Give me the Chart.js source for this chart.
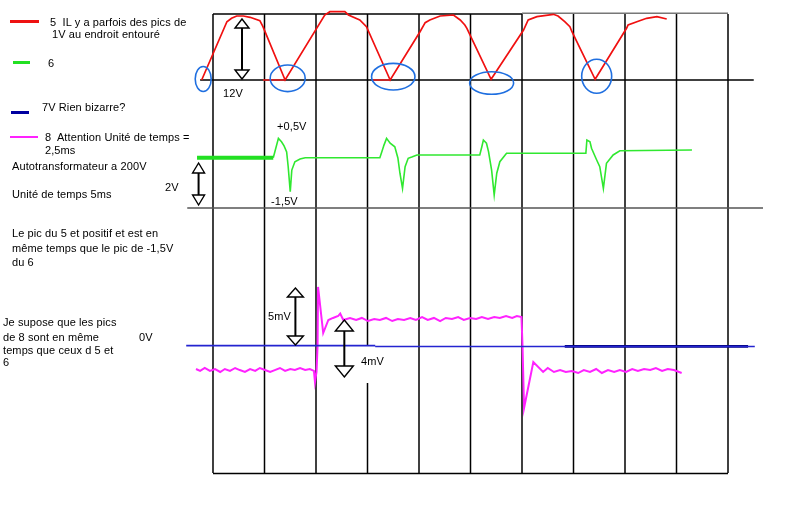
<!DOCTYPE html>
<html>
<head>
<meta charset="utf-8">
<script src="https://cdn.jsdelivr.net/npm/chart.js@4"></script>
<style>
body { margin: 0; background: #fff; }
#wrap { position: relative; width: 800px; height: 515px; overflow: hidden; }
canvas { position: absolute; left: 0; top: 0; }
.t { position: absolute; font: 11px "Liberation Sans", Arial, sans-serif; line-height: 11px; color: #000; white-space: pre; letter-spacing: 0.1px; }
.sw { position: absolute; }
</style>
</head>
<body>
<div id="wrap"><canvas id="scope" width="800" height="515"></canvas></div>
<script>
// time in grid divisions (1 div = 5 ms), values in volts / millivolts

// trace 5 (red), volts
const redT = [-0.22, 0.27, 0.36, 0.46, 0.59, 0.72, 0.91, 0.97, 1.40, 2.17, 2.27, 2.56, 2.63, 2.85, 2.98, 3.44,
  4.02, 4.12, 4.21, 4.41, 4.67, 4.80, 4.89, 4.93, 5.40, 6.03, 6.12, 6.29, 6.61, 6.70, 6.83, 6.93, 6.97, 7.42,
  8.03, 8.06, 8.23, 8.42, 8.62, 8.81];
const redV = [0, 11.66, 12.34, 12.8, 12.8, 12.54, 11.86, 10.66, 0, 13.0, 13.66, 13.66, 13.0, 12.0, 10.66, 0,
  9.66, 11.46, 12.0, 12.8, 13.0, 12.0, 11.0, 10.34, 0.14, 10.0, 12.0, 12.66, 13.14, 12.8, 11.66, 10.66, 9.66, 0.14,
  10.34, 11.0, 11.66, 12.34, 12.66, 12.2];
// short red bits lying on the zero line
const redFlatT = [0.97, 1.40, null, 3.09, 3.44];
const redFlatV = [0, 0, null, 0, 0];

// trace 6 (green), volts
const greenThickT = [-0.31, 1.17];
const greenThickV = [0, 0];
const greenT = [1.17, 1.20, 1.27, 1.33, 1.38, 1.43, 1.46, 1.50, 1.53, 1.59, 1.69, 1.79, 3.24,
  3.28, 3.32, 3.37, 3.44, 3.53, 3.59, 3.63, 3.68, 3.73, 3.79, 3.86, 3.96, 5.18,
  5.22, 5.25, 5.31, 5.35, 5.41, 5.46, 5.51, 5.57, 5.70, 7.24,
  7.26, 7.32, 7.35, 7.45, 7.51, 7.58, 7.64, 7.77, 7.90, 9.30];
const greenV = [0, 0.27, 0.92, 0.76, 0.56, 0.27, -0.43, -1.62, -0.59, -0.19, -0.06, 0, 0,
  0.29, 0.60, 0.92, 0.69, 0.52, -0.01, -0.74, -1.46, -0.43, -0.03, 0.03, 0.13, 0.13,
  0.52, 0.84, 0.69, 0.29, -0.59, -1.78, -0.74, -0.19, 0.21, 0.21,
  0.84, 0.76, 0.45, -0.11, -0.43, -1.46, -0.27, 0.13, 0.33, 0.37];

// trace 7 (blue), millivolts
const blueT = [-0.52, 3.15, null, 3.15, 10.52];
const blueV = [0.03, 0.03, null, -0.04, -0.04];
const navyT = [6.83, 10.39];
const navyV = [-0.04, -0.04];

// trace 8 (magenta), millivolts
const magT = [-0.33, -0.25, -0.16, -0.06, 0.04, 0.14, 0.23, 0.33, 0.43, 0.52, 0.62, 0.72, 0.82, 0.91, 1.01,
  1.11, 1.20, 1.30, 1.40, 1.50, 1.59, 1.69, 1.79, 1.88, 1.96, 1.98, 2.01, 2.03, 2.04, 2.14, 2.24, 2.33,
  2.43, 2.47, 2.53, 2.66, 2.78, 2.89, 3.01, 3.13, 3.24, 3.36, 3.48, 3.59, 3.71, 3.83, 3.94, 4.06, 4.17,
  4.29, 4.41, 4.52, 4.64, 4.76, 4.87, 4.99, 5.11, 5.22, 5.34, 5.46, 5.57, 5.69, 5.81, 5.90, 5.99, 6.01,
  6.04, 6.22, 6.41, 6.50, 6.62, 6.74, 6.85, 6.97, 7.09, 7.20, 7.32, 7.44, 7.55, 7.67, 7.79, 7.90, 8.02,
  8.14, 8.25, 8.37, 8.49, 8.60, 8.72, 8.83, 8.95, 9.10];
const magV = [-2.02, -2.19, -1.93, -2.19, -2.02, -2.28, -2.02, -2.19, -1.93, -2.11, -2.28, -2.02, -2.19, -1.93, -2.11,
  -2.28, -2.11, -1.93, -2.19, -2.02, -2.11, -1.93, -2.11, -2.02, -2.19, -3.16, -2.28, 0, 5.18, 1.14, 2.28, 2.46,
  2.63, 2.85, 2.28, 2.46, 2.28, 2.46, 2.19, 2.37, 2.28, 2.46, 2.19, 2.37, 2.28, 2.46, 2.28, 2.54, 2.28,
  2.46, 2.19, 2.46, 2.37, 2.54, 2.28, 2.46, 2.37, 2.54, 2.37, 2.54, 2.46, 2.63, 2.46, 2.63, 2.54, 0,
  -5.44, -1.40, -2.28, -1.93, -2.28, -2.11, -2.28, -2.19, -2.37, -2.11, -2.28, -2.02, -2.37, -2.11, -2.28, -2.11, -2.28,
  -2.02, -2.19, -2.02, -2.11, -1.93, -2.19, -2.02, -2.11, -2.37];

const gridDivs = [0, 1, 2, 3, 4, 5, 6, 7, 8, 9, 10];

// texts: [text, left px, baseline px]
const labels = [
  ['5  IL y a parfois des pics de', 50, 26],
  ['1V au endroit entouré', 52, 38],
  ['6', 48, 67],
  ['7V Rien bizarre?', 42, 111],
  ['8  Attention Unité de temps =', 45, 141],
  ['2,5ms', 45, 154],
  ['Autotransformateur a 200V', 12, 170],
  ['Unité de temps 5ms', 12, 198],
  ['2V', 165, 191],
  ['Le pic du 5 et positif et est en', 12, 237],
  ['même temps que le pic de -1,5V', 12, 252],
  ['du 6', 12, 266],
  ['Je supose que les pics', 3, 326],
  ['de 8 sont en même', 3, 341],
  ['temps que ceux d 5 et', 3, 354],
  ['6', 3, 366],
  ['0V', 139, 341],
  ['12V', 223, 97],
  ['+0,5V', 277, 130],
  ['-1,5V', 271, 205],
  ['5mV', 268, 320],
  ['4mV', 361, 365]
];
// legend swatches: color, left, top, width, height
const swatches = [
  ['#ee1111', 10, 19.5, 29, 3],
  ['#22e022', 13, 61, 17, 2.5],
  ['#0000a0', 11, 111, 18, 3],
  ['#ff22ff', 10, 136, 28, 1.5]
];

const wrap = document.getElementById('wrap');
labels.forEach(([txt, x, base]) => {
  const d = document.createElement('div');
  d.className = 't';
  d.textContent = txt;
  d.style.left = x + 'px';
  d.style.top = (base - 9.3) + 'px';
  wrap.appendChild(d);
});
swatches.forEach(([c, x, y, w, h]) => {
  const d = document.createElement('div');
  d.className = 'sw';
  Object.assign(d.style, { left: x + 'px', top: y + 'px', width: w + 'px', height: h + 'px', background: c });
  wrap.appendChild(d);
});

const pts = (xs, ys) => xs.map((x, i) => ({ x, y: ys[i] }));

// blue ellipses round the red minima: x in div, y / radii in px
const rings = [[-0.19, 79, 8, 12.5], [1.45, 78.3, 17.5, 13.3], [3.50, 76.7, 21.7, 13.3], [5.41, 83, 22, 11.3], [7.45, 76.3, 15, 17]];
// double arrows: x in div, top apex, bottom apex (px), head half width, head height
const arrows = [[0.563, 19, 79, 7, 9], [-0.28, 163, 205, 6, 10], [1.60, 288, 345, 8, 9], [2.55, 320, 377, 9, 11]];

const scopeDeco = {
  id: 'scopeDeco',
  beforeDatasetsDraw(chart) {
    const ctx = chart.ctx, X = chart.scales.x, F = chart.scales.yF;
    const px = v => X.getPixelForValue(v), py = v => F.getPixelForValue(v);
    const seg = (x1, y1, x2, y2, col, w) => {
      ctx.strokeStyle = col; ctx.lineWidth = w;
      ctx.beginPath(); ctx.moveTo(x1, y1); ctx.lineTo(x2, y2); ctx.stroke();
    };
    ctx.save();
    gridDivs.forEach(d => {
      if (d === 3) {
        seg(px(d), py(14), px(d), py(346), '#000', 1.5);
        seg(px(d), py(383), px(d), py(473), '#000', 1.5);
      } else {
        seg(px(d), py(14), px(d), py(473), '#000', 1.5);
      }
    });
    seg(px(0), py(14), px(6), py(14), '#000', 1.5);
    seg(px(6), py(13.3), px(10), py(13.3), '#777', 1.5);
    seg(px(0), py(473.5), px(10), py(473.5), '#000', 1.5);
    seg(px(-0.25), py(80), px(10.5), py(80), '#000', 1.5);
    seg(px(-0.5), py(208), px(10.68), py(208), '#555', 1.5);
    ctx.restore();
  },
  afterDatasetsDraw(chart) {
    const ctx = chart.ctx, X = chart.scales.x, F = chart.scales.yF;
    const px = v => X.getPixelForValue(v), py = v => F.getPixelForValue(v);
    ctx.save();
    ctx.strokeStyle = '#1f6fe0'; ctx.lineWidth = 1.6;
    rings.forEach(([x, y, rx, ry]) => {
      ctx.beginPath(); ctx.ellipse(px(x), py(y), rx, ry, 0, 0, Math.PI * 2); ctx.stroke();
    });
    arrows.forEach(([x, top, bot, hw, hh]) => {
      const cx = px(x), t = py(top), b = py(bot);
      ctx.strokeStyle = '#000'; ctx.lineWidth = 2;
      ctx.beginPath(); ctx.moveTo(cx, t + hh); ctx.lineTo(cx, b - hh); ctx.stroke();
      ctx.lineWidth = 1.4; ctx.fillStyle = '#fff';
      ctx.beginPath(); ctx.moveTo(cx, t); ctx.lineTo(cx + hw, t + hh); ctx.lineTo(cx - hw, t + hh); ctx.closePath();
      ctx.fill(); ctx.stroke();
      ctx.beginPath(); ctx.moveTo(cx, b); ctx.lineTo(cx + hw, b - hh); ctx.lineTo(cx - hw, b - hh); ctx.closePath();
      ctx.fill(); ctx.stroke();
    });
    ctx.restore();
  }
};

const line = (data, color, width, axis) => ({
  data, borderColor: color, backgroundColor: color, borderWidth: width,
  pointRadius: 0, tension: 0, spanGaps: false, yAxisID: axis
});

new Chart(document.getElementById('scope'), {
  type: 'line',
  data: {
    datasets: [
      line(pts(blueT, blueV), '#2424d0', 1.6, 'yM'),
      line(pts(navyT, navyV), '#00007a', 2.8, 'yM'),
      line(pts(redT, redV), '#f01010', 1.7, 'yR'),
      line(pts(redFlatT, redFlatV), '#f02020', 1.6, 'yR'),
      line(pts(greenThickT, greenThickV), '#22e022', 4, 'yG'),
      line(pts(greenT, greenV), '#30e830', 1.6, 'yG'),
      line(pts(magT, magV), '#ff22ff', 2, 'yM')
    ]
  },
  options: {
    responsive: false,
    animation: false,
    events: [],
    layout: { padding: 0 },
    plugins: { legend: { display: false }, tooltip: { enabled: false } },
    scales: {
      x: { type: 'linear', display: false, min: -4.1359, max: 11.398 },
      yR: { type: 'linear', display: false, min: -87, max: 16 },
      yG: { type: 'linear', display: false, min: -17.014, max: 7.5095 },
      yM: { type: 'linear', display: false, min: -14.825, max: 30.351 },
      yF: { type: 'linear', display: false, min: 0, max: 515, reverse: true }
    }
  },
  plugins: [scopeDeco]
});
</script>
</body>
</html>
